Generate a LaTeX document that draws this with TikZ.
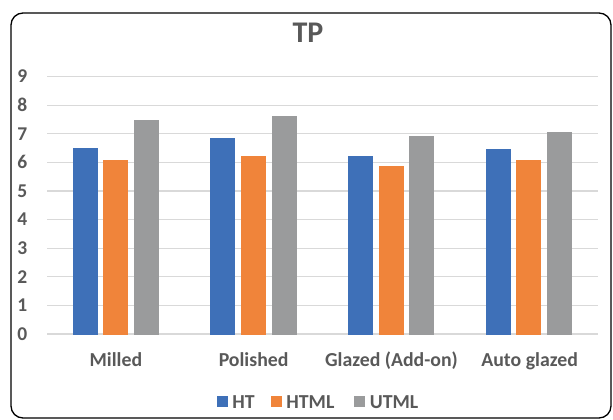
\documentclass[tikz,border=0pt]{standalone}
\usepackage{fontspec}
\setmainfont{Carlito}
\usetikzlibrary{positioning}
\definecolor{htblue}{RGB}{62,112,184}
\definecolor{htmlorange}{RGB}{240,132,58}
\definecolor{utmlgray}{RGB}{154,155,156}
\definecolor{txtgray}{RGB}{89,89,89}
\definecolor{gridgray}{RGB}{217,217,217}
\tikzset{%
	frame/.style     = {draw=black, line width=1.3pt, rounded corners=12pt},
	gridline/.style  = {draw=gridgray, line width=1.2pt},
	bar/.style       = {draw=white, line width=0.4pt},
	ticklabel/.style = {text=txtgray, font=\bfseries\fontsize{19.5}{21}\selectfont, anchor=east, inner sep=0pt},
	catlabel/.style  = {text=txtgray, font=\bfseries\fontsize{19.8}{21}\selectfont, anchor=base, inner sep=0pt},
	legbox/.style    = {minimum size=11pt, inner sep=0pt},
	legtext/.style   = {text=txtgray, font=\bfseries\fontsize{19.8}{21}\selectfont, inner sep=0pt},
}
\begin{document}
\begin{tikzpicture}[x=1pt,y=1pt]
		\useasboundingbox (0,0) rectangle (613,420);
		\draw[frame] (11,2) rectangle (611,407);
		\node[text=txtgray, font=\bfseries\fontsize{30}{32}\selectfont] (title) at (308,387) {TP};
		
		% grid and value axis
		\foreach \v in {0,...,9} {
			\draw[gridline] (47,{86+28.6*\v}) -- (598,{86+28.6*\v});
			\node[ticklabel] (tick\v) at (27.5,{86+28.6*\v}) {\v};
		}
		
		% Milled
		\fill[bar, htblue]     (72.7,86)  rectangle ++(24,{28.6*6.49});
		\fill[bar, htmlorange] (103.3,86) rectangle ++(24,{28.6*6.08});
		\fill[bar, utmlgray]   (134,86)   rectangle ++(24,{28.6*7.46});
		% Polished
		\fill[bar, htblue]     (210.45,86) rectangle ++(24,{28.6*6.83});
		\fill[bar, htmlorange] (241.05,86) rectangle ++(24,{28.6*6.21});
		\fill[bar, utmlgray]   (271.75,86) rectangle ++(24,{28.6*7.62});
		% Glazed (Add-on)
		\fill[bar, htblue]     (348.2,86) rectangle ++(24,{28.6*6.21});
		\fill[bar, htmlorange] (378.8,86) rectangle ++(24,{28.6*5.88});
		\fill[bar, utmlgray]   (409.5,86) rectangle ++(24,{28.6*6.91});
		% Auto glazed
		\fill[bar, htblue]     (485.95,86) rectangle ++(24,{28.6*6.47});
		\fill[bar, htmlorange] (516.55,86) rectangle ++(24,{28.6*6.09});
		\fill[bar, utmlgray]   (547.25,86) rectangle ++(24,{28.6*7.05});
		
		\node[catlabel] (milled)   at (115.9,53.5) {Milled};
		\node[catlabel] (polished) at (253.6,53.5) {Polished};
		\node[catlabel] (glazed)   at (391.4,53.5) {Glazed (Add-on)};
		\node[catlabel] (auto)     at (529.6,53.5) {Auto glazed};
		
		% legend
		\node[legbox, fill=htblue]     (keyHT)   at (222,18)   {};
		\node[legtext, right=4.5pt of keyHT]   (txtHT)   {HT};
		\node[legbox, fill=htmlorange] (keyHTML) at (276,18)   {};
		\node[legtext, right=4.5pt of keyHTML] (txtHTML) {HTML};
		\node[legbox, fill=utmlgray]   (keyUTML) at (359.5,18) {};
		\node[legtext, right=4.5pt of keyUTML] (txtUTML) {UTML};
\end{tikzpicture}
\end{document}
